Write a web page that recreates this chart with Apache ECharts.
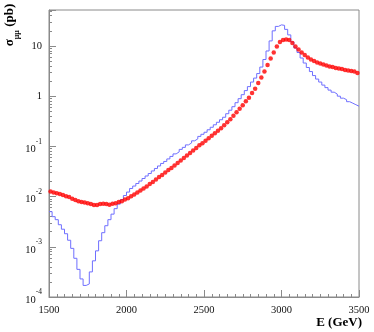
<!DOCTYPE html>
<html>
<head>
    <meta charset="UTF-8">
    <title></title>
    <script type="text/javascript" src="https://cdn.jsdelivr.net/npm/echarts@6/dist/echarts.min.js"></script>
</head>
<body style="margin:0">

<div id="main" style="height: 332px; width: 374px;"></div>
<script type="text/javascript">

    // histogram: 100 bins of 20 GeV from 1500 to 3500
    var binLo = 1500;
    var binW = 20;

    // blue histogram (pb)
    var sigmaHist = [
        5.01e-3, 3.98e-3, 3.47e-3, 2.75e-3, 2.24e-3, 1.82e-3, 1.35e-3, 9.3e-4, 5.9e-4, 3.55e-4,
        2.29e-4, 1.70e-4, 1.82e-4, 3.16e-4, 5.25e-4, 8.3e-4, 1.32e-3, 1.91e-3, 2.63e-3, 3.47e-3,
        4.47e-3, 5.75e-3, 7.08e-3, 8.71e-3, 1.05e-2, 1.23e-2, 1.45e-2, 1.62e-2, 1.82e-2, 2.04e-2,
        2.29e-2, 2.57e-2, 2.88e-2, 3.24e-2, 3.63e-2, 4.07e-2, 4.57e-2, 5.01e-2, 5.62e-2, 6.31e-2,
        7.08e-2, 7.76e-2, 8.71e-2, 9.55e-2, 0.107, 0.117, 0.129, 0.141, 0.158, 0.174,
        0.191, 0.214, 0.240, 0.269, 0.302, 0.339, 0.380, 0.447, 0.525, 0.617,
        0.741, 0.891, 1.07, 1.29, 1.55, 1.91, 2.29, 2.82, 3.80, 5.37,
        7.94, 12.6, 20.0, 24.5, 26.3, 25.7, 21.4, 16.6, 12.0, 9.12,
        7.41, 5.75, 4.57, 3.72, 3.09, 2.57, 2.19, 1.91, 1.66, 1.48,
        1.32, 1.20, 1.10, 1.00, 0.912, 0.851, 0.776, 0.724, 0.676, 0.631
    ];

    // red points (pb), one per bin centre
    var sigmaPts = [
        1.26e-2, 1.20e-2, 1.17e-2, 1.12e-2, 1.07e-2, 1.02e-2, 9.8e-3, 9.1e-3, 8.5e-3, 8.1e-3,
        7.8e-3, 7.6e-3, 7.4e-3, 7.1e-3, 6.8e-3, 6.8e-3, 7.1e-3, 7.2e-3, 7.1e-3, 6.9e-3,
        7.2e-3, 7.4e-3, 7.8e-3, 8.1e-3, 8.7e-3, 9.3e-3, 1.02e-2, 1.10e-2, 1.20e-2, 1.32e-2,
        1.45e-2, 1.58e-2, 1.78e-2, 1.95e-2, 2.19e-2, 2.45e-2, 2.69e-2, 3.02e-2, 3.39e-2, 3.72e-2,
        4.17e-2, 4.68e-2, 5.25e-2, 5.89e-2, 6.61e-2, 7.41e-2, 8.32e-2, 9.33e-2, 0.105, 0.115,
        0.129, 0.145, 0.162, 0.182, 0.204, 0.229, 0.263, 0.302, 0.347, 0.407,
        0.479, 0.562, 0.661, 0.794, 0.933, 1.15, 1.41, 1.82, 2.34, 3.09,
        4.17, 5.62, 7.41, 9.77, 12.0, 13.2, 13.5, 13.2, 11.5, 9.77,
        8.51, 7.41, 6.61, 5.89, 5.37, 5.01, 4.68, 4.47, 4.27, 4.07,
        3.89, 3.80, 3.63, 3.55, 3.47, 3.31, 3.24, 3.16, 3.09, 2.88
    ];

    var xTicks = [1500, 2000, 2500, 3000, 3500];

    var histData = [];
    var ptsData = [];
    for (var i = 0; i < sigmaHist.length; i++) {
        histData.push([binLo + i * binW, sigmaHist[i]]);
        ptsData.push([binLo + (i + 0.5) * binW, sigmaPts[i]]);
    }
    histData.push([binLo + sigmaHist.length * binW, sigmaHist[sigmaHist.length - 1]]);

    var serif = '"Liberation Serif", "DejaVu Serif", serif';
    var axisGrey = '#8a8a8a';

    var myChart = echarts.init(document.getElementById('main'));

    option = {
        animation: false,
        backgroundColor: '#fff',
        grid: {
            left: 49, right: 15, top: 10, bottom: 35,
            show: true,
            borderColor: axisGrey,
            borderWidth: 1
        },
        xAxis: {
            type: 'value',
            min: xTicks[0],
            max: xTicks[xTicks.length - 1],
            interval: 500,
            axisLine: { lineStyle: { color: axisGrey } },
            axisTick: { inside: true, length: 7, lineStyle: { color: axisGrey } },
            minorTick: { show: true, splitNumber: 10, length: 3, lineStyle: { color: axisGrey } },
            splitLine: { show: false },
            axisLabel: {
                color: '#111', fontFamily: serif, fontSize: 10.5, margin: 8,
                formatter: function (v) { return String(v); }
            }
        },
        yAxis: {
            type: 'log',
            min: 1e-4,
            max: 52,
            axisLine: { lineStyle: { color: axisGrey } },
            axisTick: { inside: true, length: 7, lineStyle: { color: axisGrey } },
            minorTick: { show: true, splitNumber: 9, length: 3, lineStyle: { color: axisGrey } },
            splitLine: { show: false },
            axisLabel: {
                color: '#111',
                fontFamily: serif,
                fontSize: 10.5,
                margin: 7,
                formatter: function (v) {
                    var l = Math.log10(v);
                    var e = Math.round(l);
                    if (Math.abs(l - e) > 1e-6) return '';
                    if (e === 0) return '1';
                    if (e === 1) return '10';
                    return '{b|10}{s|' + e + '}';
                },
                rich: {
                    b: { fontFamily: serif, fontSize: 10.5, color: '#111', lineHeight: 17, verticalAlign: 'bottom' },
                    s: { fontFamily: serif, fontSize: 7.5, color: '#111', lineHeight: 17, verticalAlign: 'top' }
                }
            }
        },
        graphic: [
            {
                type: 'text',
                x: 12, y: 25,
                rotation: Math.PI / 2,
                style: {
                    text: '{m|σ}{u|μμ}{m| (pb)}',
                    align: 'center',
                    verticalAlign: 'middle',
                    rich: {
                        m: { fontFamily: serif, fontWeight: 'bold', fontSize: 13, fill: '#000', lineHeight: 18, verticalAlign: 'top' },
                        u: { fontFamily: serif, fontWeight: 'bold', fontSize: 8, fill: '#000', lineHeight: 18, verticalAlign: 'bottom' }
                    }
                }
            },
            {
                type: 'text',
                x: 362, y: 323,
                style: {
                    text: 'E (GeV)',
                    align: 'right',
                    verticalAlign: 'middle',
                    font: 'bold 13px ' + serif,
                    fill: '#000'
                }
            }
        ],
        series: [
            {
                name: 'hist',
                type: 'line',
                step: 'end',
                data: histData,
                showSymbol: false,
                lineStyle: { color: '#6f6fff', width: 1 },
                z: 2
            },
            {
                name: 'points',
                type: 'scatter',
                data: ptsData,
                symbol: 'circle',
                symbolSize: 4.5,
                itemStyle: { color: '#ff0000' },
                z: 3
            }
        ]
    };

    myChart.setOption(option);

</script>

</body>
</html>
